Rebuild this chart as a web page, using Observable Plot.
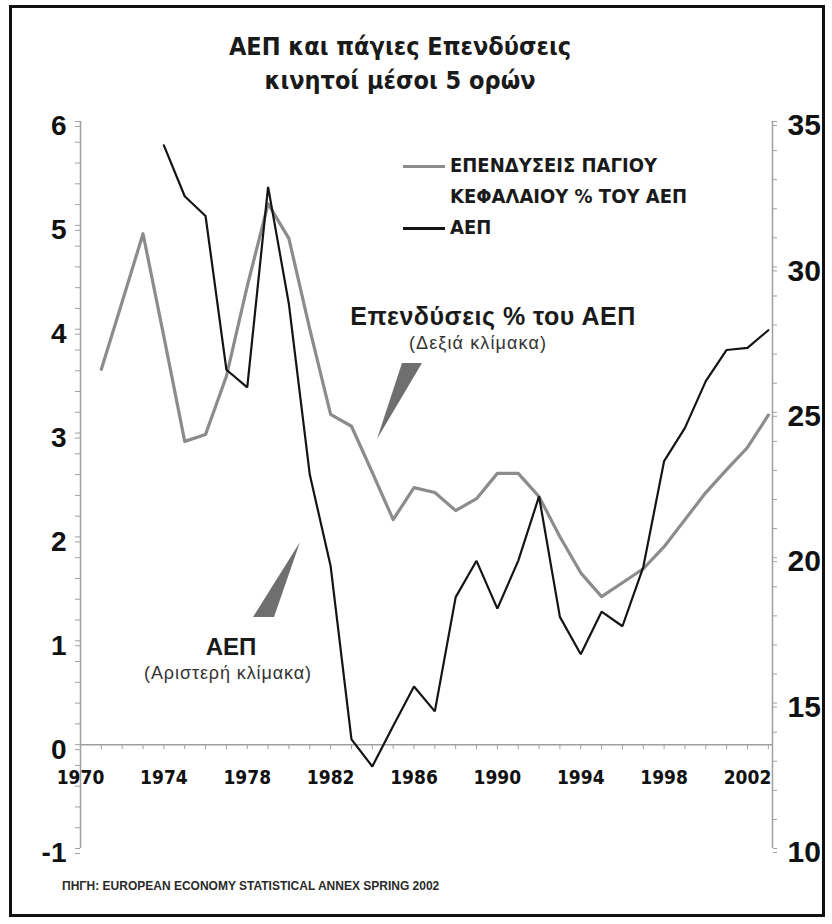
<!DOCTYPE html>
<html>
<head>
<meta charset="utf-8">
<script src="https://cdn.jsdelivr.net/npm/d3@7"></script>
<script src="https://cdn.jsdelivr.net/npm/@observablehq/plot@0.6"></script>
<style>
  body { margin: 0; background: #fff; }
  #wrap { position: relative; width: 832px; height: 924px; overflow: hidden; background: #fff; }
  #chart { position: absolute; left: 0; top: 0; }
  .frame { position: absolute; left: 9px; top: 5px; width: 810px; height: 906px; border: 3px solid #111; pointer-events: none; }
  .narrow { font-family: "Liberation Sans Narrow", "DejaVu Sans Condensed", "DejaVu Sans", sans-serif; font-stretch: condensed; font-weight: bold; }
  .title { position: absolute; left: 0; width: 800px; text-align: center; font-size: 25px; color: #1a1a1a; line-height: 1; }
  .legend { position: absolute; left: 403px; top: 150px; font-size: 20px; color: #1a1a1a; line-height: 31px; }
  .legend .row { position: relative; padding-left: 47px; white-space: nowrap; }
  .legend .sw { position: absolute; left: 0; width: 42px; top: 0; }
  .source { position: absolute; left: 62px; top: 879px; font-family: "Liberation Sans", Arial, sans-serif; font-weight: bold; font-size: 12px; color: #2a2a2a; white-space: nowrap; }
  #notes { position: absolute; left: 0; top: 0; }
</style>
</head>
<body>
<div id="wrap">
  <div id="chart"></div>
  <svg id="notes" width="832" height="924"></svg>
  <div class="title narrow" id="t1" style="top:34px">ΑΕΠ και πάγιες Επενδύσεις</div>
  <div class="title narrow" id="t2" style="top:68px">κινητοί μέσοι 5 ορών</div>
  <div class="legend narrow" id="legend"></div>
  <div class="source">ΠΗΓΗ: EUROPEAN ECONOMY STATISTICAL ANNEX SPRING 2002</div>
  <div class="frame"></div>
</div>
<script>
// ---- data ----
const gdpYears = [1974,1975,1976,1977,1978,1979,1980,1981,1982,1983,1984,1985,1986,1987,1988,1989,1990,1991,1992,1993,1994,1995,1996,1997,1998,1999,2000,2001,2002,2003];
const gdpValues = [5.77,5.28,5.09,3.61,3.44,5.37,4.24,2.60,1.72,0.05,-0.21,0.18,0.56,0.32,1.42,1.77,1.31,1.77,2.39,1.23,0.87,1.28,1.14,1.71,2.73,3.05,3.50,3.80,3.82,3.99];
const invYears = [1971,1972,1973,1974,1975,1976,1977,1978,1979,1980,1981,1982,1983,1984,1985,1986,1987,1988,1989,1990,1991,1992,1993,1994,1995,1996,1997,1998,1999,2000,2001,2002,2003];
const invValues = [26.48,28.8,31.14,27.6,24.0,24.24,26.24,29.34,32.17,30.97,27.86,24.93,24.52,22.93,21.31,22.41,22.24,21.62,22.03,22.9,22.9,22.1,20.72,19.48,18.66,19.14,19.62,20.38,21.31,22.24,23.03,23.79,24.9];
const xLabelYears = [1970,1974,1978,1982,1986,1990,1994,1998,2002];
const leftTicks = [-1,0,1,2,3,4,5,6];
const rightTicks = [10,15,20,25,30,35];
const legendLabels = ["ΕΠΕΝΔΥΣΕΙΣ ΠΑΓΙΟΥ", "ΚΕΦΑΛΑΙΟΥ % ΤΟΥ ΑΕΠ", "ΑΕΠ"];
const seriesColors = {inv: "#8c8c8c", gdp: "#141414"};

// ---- layout ----
const W = 832, H = 924;
const ML = 80, MR = 60, MT = 121, MB = 76;
const xDomain = [1970, 2003.2];
const leftDomain = [-1, 6], rightDomain = [10, 35];
const toLeft = v => leftDomain[0] + (v - rightDomain[0]) * (leftDomain[1] - leftDomain[0]) / (rightDomain[1] - rightDomain[0]);
const toRight = v => rightDomain[0] + (v - leftDomain[0]) * (rightDomain[1] - rightDomain[0]) / (leftDomain[1] - leftDomain[0]);
const zeroOffset = -(H - MB - MT) * (0 - leftDomain[0]) / (leftDomain[1] - leftDomain[0]);

const gdp = gdpYears.map((year, i) => ({year, v: gdpValues[i]}));
const inv = invYears.map((year, i) => ({year, v: toLeft(invValues[i])}));

const axisGray = "#a0a0a0";
const numFont = '"Liberation Sans", Arial, sans-serif';

const chart = Plot.plot({
  width: W, height: H,
  marginLeft: ML, marginRight: MR, marginTop: MT, marginBottom: MB,
  style: {background: "transparent", overflow: "visible", fontFamily: numFont, color: "#111"},
  x: {domain: xDomain, axis: null},
  y: {domain: leftDomain, axis: null},
  marks: [
    // axis lines
    Plot.ruleX([xDomain[0]], {y1: leftDomain[0], y2: leftDomain[1], stroke: axisGray, strokeWidth: 1.5}),
    Plot.ruleX([xDomain[1]], {y1: leftDomain[0], y2: leftDomain[1], stroke: axisGray, strokeWidth: 1.5}),
    Plot.ruleY([0], {x1: xDomain[0], x2: xDomain[1], stroke: axisGray, strokeWidth: 1.5}),
    // left axis minor + major ticks
    Plot.axisY({anchor: "left", label: null, ticks: d3.range(-5, 31).map(i => i / 5), tickSize: 5, tickFormat: () => "", stroke: axisGray}),
    Plot.axisY({anchor: "left", label: null, ticks: leftTicks, tickSize: 5, tickPadding: 9, tickFormat: d => String(d),
      fontSize: 28, fontWeight: "bold", stroke: axisGray, fill: "#111", dy: 5}),
    // right axis
    Plot.axisY({anchor: "right", label: null, ticks: d3.range(10, 36).map(toLeft), tickSize: 4, tickFormat: () => "", stroke: axisGray}),
    Plot.axisY({anchor: "right", label: null, ticks: rightTicks.map(toLeft), tickSize: 4, tickPadding: 11,
      tickFormat: d => String(Math.round(toRight(d))), fontSize: 30, fontWeight: "bold", stroke: axisGray, fill: "#111", dy: 4}),
    // x axis at zero: yearly ticks + labels
    Plot.axisX({anchor: "bottom", label: null, ticks: d3.range(1970, 2004), tickSize: 5, tickFormat: () => "", stroke: axisGray, dy: zeroOffset}),
    Plot.axisX({anchor: "bottom", label: null, ticks: xLabelYears, tickSize: 0, tickPadding: 26, tickFormat: d => String(d),
      fontSize: 19, fontWeight: "bold", fill: "#111", dy: zeroOffset, fontFamily: '"Liberation Sans Narrow", "DejaVu Sans Condensed", sans-serif'}),
    // series
    Plot.line(inv, {x: "year", y: "v", stroke: seriesColors.inv, strokeWidth: 3.2, strokeLinejoin: "round"}),
    Plot.line(gdp, {x: "year", y: "v", stroke: seriesColors.gdp, strokeWidth: 2.2, strokeLinejoin: "miter"})
  ]
});
document.getElementById("chart").appendChild(chart);

// ---- legend ----
const legend = d3.select("#legend");
const rows = [
  {text: legendLabels[0], color: seriesColors.inv, sw: true},
  {text: legendLabels[1], color: null, sw: false},
  {text: legendLabels[2], color: seriesColors.gdp, sw: true}
];
rows.forEach(r => {
  const row = legend.append("div").attr("class", "row");
  if (r.sw) row.append("div").attr("class", "sw").style("top", "15px").style("border-top", `3px solid ${r.color}`);
  row.append("span").text(r.text);
});

// ---- annotations ----
const notes = d3.select("#notes");
notes.append("polygon").attr("points", "377,439 402,363 422,363").attr("fill", "#6f6f6f");
notes.append("polygon").attr("points", "300,542 253,617 274,617").attr("fill", "#6f6f6f");
const tf = '"Liberation Sans", Arial, sans-serif';
notes.append("text").attr("x", 493).attr("y", 325).attr("text-anchor", "middle").attr("font-family", tf)
  .attr("font-weight", "bold").attr("font-size", 25).attr("letter-spacing", 0.5).attr("fill", "#1a1a1a").text("Επενδύσεις % του ΑΕΠ");
notes.append("text").attr("x", 478).attr("y", 349).attr("text-anchor", "middle").attr("font-family", tf)
  .attr("font-size", 18).attr("letter-spacing", 1.1).attr("fill", "#333").text("(Δεξιά κλίμακα)");
notes.append("text").attr("x", 231).attr("y", 655).attr("text-anchor", "middle").attr("font-family", tf)
  .attr("font-weight", "bold").attr("font-size", 24).attr("fill", "#1a1a1a").text("ΑΕΠ");
notes.append("text").attr("x", 228).attr("y", 679).attr("text-anchor", "middle").attr("font-family", tf)
  .attr("font-size", 18).attr("letter-spacing", 0.9).attr("fill", "#333").text("(Αριστερή κλίμακα)");
</script>
</body>
</html>
